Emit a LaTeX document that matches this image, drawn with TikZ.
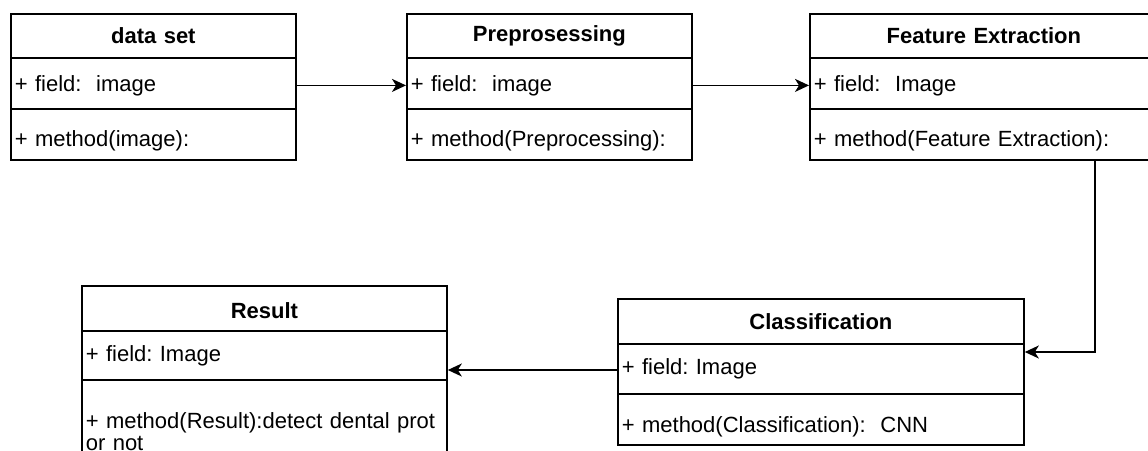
\documentclass[tikz,border=0pt]{standalone}
\usepackage{fontspec}
\setmainfont{Liberation Sans}
\usetikzlibrary{arrows.meta,calc}
\frenchspacing
\begin{document}
\begin{tikzpicture}[x=1pt,y=-1pt,
  comp/.style={draw=black, line width=1.8pt, rectangle, anchor=north west,
    inner xsep=4pt, inner ysep=0pt, font=\fontsize{22}{22}\selectfont, align=left},
  head/.style={comp, align=center, font=\fontsize{22}{24}\selectfont\bfseries},
  down/.style={text height=#1, text depth=5pt},
  conn/.style={line width=1.8pt, -{Stealth[length=14pt,width=13pt,inset=4pt]}}
]
\useasboundingbox (0,0) rectangle (1148,450);
\fill[white] (0,0) rectangle (1148,450);
\clip (0,0) rectangle (1148,450);

% data set
\node[head, minimum width=285pt, text width=277pt, minimum height=44pt] (dsh) at (10,13) {data set};
\node[comp, down=22pt, minimum width=285pt, text width=277pt, minimum height=51pt] (dsf) at (10,57) {+ field:\ \ image};
\node[comp, down=30pt, minimum width=285pt, text width=277pt, minimum height=51pt] (dsm) at (10,108) {+ method(image):};

% Preprocessing
\node[head, minimum width=285pt, text width=277pt, minimum height=44pt] (prh) at (406,13) {Preprosessing};
\node[comp, down=22pt, minimum width=285pt, text width=277pt, minimum height=51pt] (prf) at (406,57) {+ field:\ \ image};
\node[comp, down=30pt, minimum width=285pt, text width=277pt, minimum height=51pt] (prm) at (406,108) {+ method(Preprocessing):};

% Feature Extraction
\node[head, minimum width=348pt, text width=340pt, minimum height=44pt] (feh) at (809,13) {Feature Extraction};
\node[comp, down=22pt, minimum width=348pt, text width=340pt, minimum height=51pt] (fef) at (809,57) {+ field:\ \ Image};
\node[comp, down=30pt, minimum width=348pt, text width=340pt, minimum height=51pt] (fem) at (809,108) {+ method(Feature Extraction):};

% Classification
\node[head, minimum width=406pt, text width=398pt, minimum height=45pt] (clh) at (617,298) {Classification};
\node[comp, minimum width=406pt, text width=398pt, minimum height=50pt] (clf) at (617,343) {+ field: Image};
\node[comp, down=32pt, minimum width=406pt, text width=398pt, minimum height=51pt] (clm) at (617,393) {+ method(Classification):\ \ CNN};

% Result
\node[head, down=26pt, minimum width=365pt, text width=357pt, minimum height=45pt] (reh) at (81,285) {Result};
\node[comp, down=18pt, minimum width=365pt, text width=357pt, minimum height=49pt] (ref) at (81,330) {+ field: Image};
\node[comp, minimum width=365pt, text width=357pt, minimum height=104pt] (rem) at (81,379) {+ method(Result):detect dental prot\\or not};

% connectors
\coordinate (bend) at (1095,352);
\draw[conn] ($(dsf.east)+(0,2)$) -- ($(prf.west)+(0,2)$);
\draw[conn] ($(prf.east)+(0,2)$) -- ($(fef.west)+(0,2)$);
\draw[conn] (fem.south -| bend) -- (bend) -- (clf.east |- bend);
\draw[conn] (clf.west |- 0,370) -- (ref.east |- 0,370);
\end{tikzpicture}
\end{document}
